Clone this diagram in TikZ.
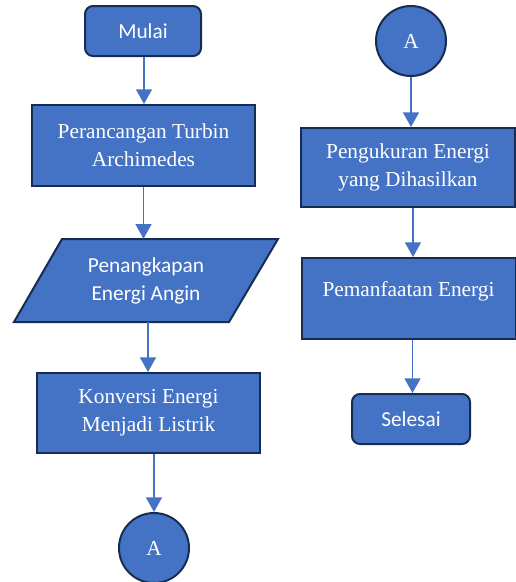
\documentclass[tikz,border=0pt]{standalone}
\usepackage{fontspec}
\setmainfont{Liberation Serif}
\newfontfamily\calib{Carlito}
\usetikzlibrary{arrows.meta}
\definecolor{fillblue}{HTML}{4472C4}
\definecolor{navy}{HTML}{172C51}
\begin{document}
\begin{tikzpicture}[x=0.75pt,y=-0.75pt,
  proc/.style={draw=navy, line width=1.5pt, fill=fillblue, text=white,
    font=\fontsize{16}{21}\selectfont, align=center, inner sep=0pt},
  term/.style={proc, rounded corners=6pt, font=\calib\fontsize{16}{21}\selectfont},
  conn/.style={circle, draw=navy, line width=1.5pt, fill=fillblue, text=white,
    font=\fontsize{16}{21}\selectfont, minimum size=52.5pt, inner sep=0pt},
  arr/.style={draw=fillblue, line width=1.1pt, -{Triangle[width=12pt,length=11pt]}}]
\useasboundingbox (0,0) rectangle (516,582);
% left column
\node[term, minimum width=87pt, minimum height=37.5pt] (mulai) at (143,31) {Mulai};
\node[proc, minimum width=167.25pt, minimum height=60.75pt] (peran) at (143.5,145.5) {Perancangan Turbin\\Archimedes};
\draw[navy, line width=1.5pt, fill=fillblue] (62,239) -- (278,239) -- (229,322) -- (14,322) -- cycle;
\node[text=white, align=center, font=\calib\fontsize{16}{21}\selectfont, minimum height=62.25pt, inner sep=0pt] (para) at (146,280.5) {Penangkapan\\Energi Angin};
\node[proc, minimum width=167.25pt, minimum height=60pt] (konv) at (148.5,413) {Konversi Energi\\Menjadi Listrik};
\node[conn] (a1) at (154,548) {A};
% right column
\node[conn] (a2) at (411,41) {A};
\node[proc, minimum width=160.5pt, minimum height=59.25pt] (peng) at (408,167.5) {Pengukuran Energi\\yang Dihasilkan};
\node[proc, minimum width=160.5pt, minimum height=60.75pt] (peman) at (408.5,298.5) {Pemanfaatan Energi\\[-6pt]\mbox{}};
\node[term, minimum width=88.5pt, minimum height=37.5pt] (selesai) at (411,419) {Selesai};
% arrows
\draw[arr] ([xshift=0.75pt]mulai.south) -- ([xshift=0.75pt]mulai.south |- peran.north);
\draw[arr] (peran.south) -- (peran.south |- para.north);
\draw[arr] ([xshift=1.5pt]para.south) -- ([xshift=1.5pt]para.south |- konv.north);
\draw[arr] (a1.north |- konv.south) -- (a1.north);
\draw[arr] (a2.south) -- (a2.south |- peng.north);
\draw[arr] ([xshift=3.75pt]peng.south) -- ([xshift=3.75pt]peng.south |- peman.north);
\draw[arr] ([xshift=3pt]peman.south) -- ([xshift=3pt]peman.south |- selesai.north);
\end{tikzpicture}
\end{document}
